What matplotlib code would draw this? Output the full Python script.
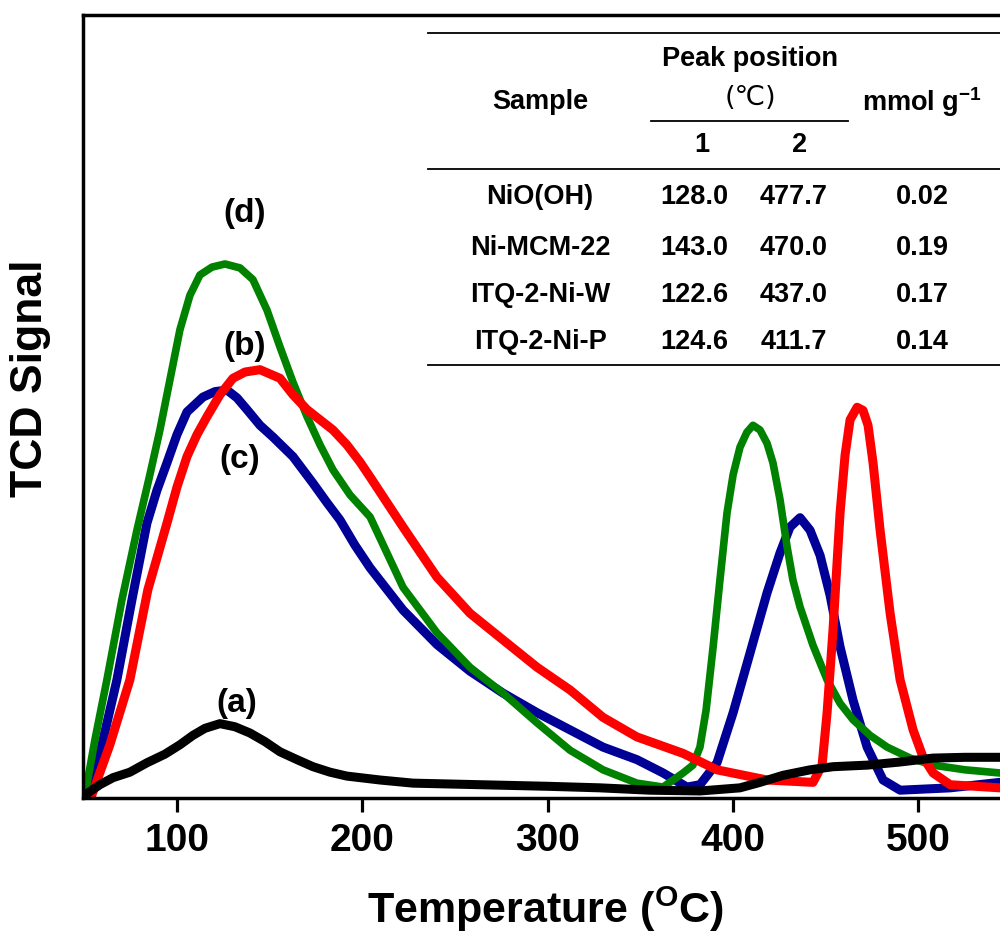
import matplotlib
matplotlib.use("Agg")
import matplotlib.pyplot as plt

# TPR profiles (temperature in degC, signal in a.u., axis top = 100)
temp_a = [50.4, 58.4, 65.5, 74.6, 83.8, 93.5, 101.6, 108.6, 115.1, 123.2, 131.3, 139.4,
          147.5, 155.6, 164.8, 173.4, 182.6, 191.7, 209.6, 227.4, 263.5, 299.7, 328.3,
          355.3, 382.2, 403.8, 414.6, 427.0, 441.6, 454.0, 472.4, 490.2, 508.0, 525.3, 544.0]
sig_a = [0.4, 1.7, 2.6, 3.3, 4.5, 5.6, 6.8, 8.0, 8.9, 9.5, 9.1, 8.3,
         7.2, 5.9, 4.9, 4.0, 3.3, 2.8, 2.3, 1.9, 1.7, 1.5, 1.3,
         1.0, 0.9, 1.3, 2.0, 2.9, 3.6, 4.0, 4.2, 4.6, 5.1, 5.2, 5.2]

temp_b = [54.1, 63.8, 74.6, 84.3, 94.6, 100.0, 105.4, 110.8, 116.2, 123.2, 130.2, 136.7,
          144.8, 155.6, 162.6, 170.2, 177.2, 184.2, 191.7, 198.8, 204.2, 222.0, 240.3,
          258.1, 275.9, 294.3, 312.1, 329.9, 348.2, 373.1, 391.4, 418.4, 443.2, 448.1,
          450.8, 454.0, 457.8, 460.5, 463.2, 467.0, 470.2, 472.9, 475.6, 479.4, 484.8,
          490.2, 497.2, 502.6, 508.0, 517.2, 544.0]
sig_b = [0.4, 6.8, 15.1, 26.6, 35.1, 39.7, 43.6, 46.4, 48.7, 51.5, 53.6, 54.4,
         54.7, 53.6, 51.5, 49.6, 48.3, 47.0, 45.1, 42.9, 41.0, 34.6, 28.2,
         23.6, 20.2, 16.7, 13.8, 10.3, 7.8, 5.7, 3.6, 2.3, 2.0, 4.2,
         10.9, 21.5, 36.4, 43.8, 48.3, 49.9, 49.5, 47.6, 42.8, 34.2, 23.6,
         15.1, 8.7, 5.2, 3.2, 1.7, 1.3]

temp_c = [53.1, 60.1, 67.6, 75.7, 83.8, 89.2, 94.6, 100.0, 105.4, 114.0, 120.5, 127.0,
          132.4, 137.8, 144.8, 151.8, 162.6, 173.4, 181.0, 188.0, 196.0, 204.2, 222.0, 240.3,
          258.1, 275.9, 294.3, 312.1, 329.9, 348.2, 362.3, 375.2, 382.2, 391.4, 400.1,
          409.2, 418.4, 425.4, 430.8, 436.2, 441.6, 447.0, 452.4, 457.8, 464.8, 472.4,
          481.0, 490.2, 517.2, 544.0]
sig_c = [0.4, 7.4, 15.1, 25.3, 35.1, 39.3, 42.8, 46.4, 49.3, 51.2, 51.9, 52.1,
         51.1, 49.6, 47.6, 46.1, 43.6, 40.2, 37.7, 35.5, 32.3, 29.4, 24.0, 19.6,
         16.2, 13.4, 10.9, 8.7, 6.5, 4.9, 3.2, 1.4, 1.7, 4.5, 10.9,
         18.5, 26.2, 31.3, 34.6, 35.8, 34.2, 31.0, 25.9, 19.3, 12.5, 6.5,
         2.3, 1.0, 1.3, 2.0]

temp_d = [50.4, 55.7, 62.2, 70.3, 78.4, 85.4, 90.8, 96.2, 101.6, 107.0, 112.4, 118.9,
          125.9, 134.0, 141.0, 148.6, 155.6, 162.6, 170.2, 177.2, 184.2, 193.4, 204.2,
          222.0, 240.3, 258.1, 275.9, 294.3, 312.1, 329.9, 348.2, 362.3, 373.1, 378.4,
          382.2, 385.5, 389.3, 393.1, 396.8, 400.1, 403.8, 407.5, 410.8, 414.6, 418.4,
          421.6, 425.4, 429.2, 432.4, 436.2, 443.2, 450.8, 457.8, 464.8, 474.0, 483.2,
          495.6, 508.0, 525.3, 544.0]
sig_d = [0.4, 7.4, 15.1, 25.3, 34.2, 41.3, 47.0, 53.4, 59.8, 64.2, 66.8, 67.8,
         68.2, 67.7, 66.2, 62.3, 57.6, 53.1, 48.7, 45.1, 41.9, 38.7, 35.9,
         26.9, 21.1, 16.7, 13.4, 9.6, 6.1, 3.6, 1.9, 1.4, 3.2, 4.2,
         6.5, 11.2, 19.3, 28.1, 36.4, 41.3, 44.8, 46.7, 47.6, 47.0, 45.3,
         42.8, 38.1, 32.1, 27.8, 24.4, 19.5, 15.1, 12.1, 10.0, 8.0, 6.5,
         5.1, 4.2, 3.6, 3.2]

curve_labels = ["(a)", "(b)", "(c)", "(d)"]
label_temp = [132.0, 136.7, 134.0, 136.7]
label_sig = [12.1, 57.6, 43.2, 74.7]

# inset table
table_samples = ["NiO(OH)", "Ni-MCM-22", "ITQ-2-Ni-W", "ITQ-2-Ni-P"]
peak1 = ["128.0", "143.0", "122.6", "124.6"]
peak2 = ["477.7", "470.0", "437.0", "411.7"]
uptake = ["0.02", "0.19", "0.17", "0.14"]

plt.rcParams["font.family"] = ["Liberation Sans", "DejaVu Sans"]
plt.rcParams["font.weight"] = "bold"

fig = plt.figure(figsize=(10, 9.35), dpi=100)
ax = fig.add_axes([0.083, 0.1465, 0.917, 0.8375])

ax.plot(temp_c, sig_c, color="#000096", lw=6.5, solid_joinstyle="round")
ax.plot(temp_d, sig_d, color="#008200", lw=5.5, solid_joinstyle="round")
ax.plot(temp_b, sig_b, color="#ff0000", lw=6.5, solid_joinstyle="round")
ax.plot(temp_a, sig_a, color="black", lw=6.5, solid_joinstyle="round")

for lab, tx, sy in zip(curve_labels, label_temp, label_sig):
    ax.text(tx, sy, lab, ha="center", va="center", fontsize=24, fontweight="bold")

ax.set_xlim(49.3, 544.1)
ax.set_ylim(0, 100)
ax.set_xticks([100, 200, 300, 400, 500])
ax.set_yticks([])
ax.spines["right"].set_visible(False)
for s in ["left", "top", "bottom"]:
    ax.spines[s].set_linewidth(2.5)
ax.tick_params(axis="x", direction="out", length=10, width=2.3, pad=8, labelsize=28)
for t in ax.get_xticklabels():
    t.set_fontweight("bold")

fig.text(0.546, 1 - 923 / 935, r"Temperature ($\mathregular{^{O}}$C)", ha="center",
         va="baseline", fontsize=31, fontweight="bold")
fig.text(0.031, 1 - 378 / 935, "TCD Signal", ha="center", va="center",
         rotation=90, fontsize=32, fontweight="bold")

# table drawn in figure pixel coordinates
def fx(px):
    return px / 1000.0

def fy(py):
    return 1 - py / 935.0

for y_rule in [33, 169, 365]:
    fig.add_artist(plt.Line2D([fx(428), fx(1000)], [fy(y_rule), fy(y_rule)],
                              color="black", lw=1.3))
fig.add_artist(plt.Line2D([fx(651), fx(848)], [fy(121), fy(121)], color="black", lw=1.3))

tsize = 19.5
fig.text(fx(540), fy(102), "Sample", ha="center", va="center", fontsize=tsize)
fig.text(fx(750), fy(59), "Peak position", ha="center", va="center", fontsize=tsize)
fig.text(fx(750), fy(98), "(℃)", ha="center", va="center", fontsize=tsize,
         fontweight="normal", family=["DejaVu Sans"])
fig.text(fx(922), fy(102), r"mmol g$\mathregular{^{−1}}$", ha="center", va="center",
         fontsize=tsize)
fig.text(fx(702), fy(145), "1", ha="center", va="center", fontsize=tsize)
fig.text(fx(800), fy(145), "2", ha="center", va="center", fontsize=tsize)

row_y = [197, 248, 295, 342]
for name, p1, p2, u, ry in zip(table_samples, peak1, peak2, uptake, row_y):
    fig.text(fx(540), fy(ry), name, ha="center", va="center", fontsize=tsize)
    fig.text(fx(694), fy(ry), p1, ha="center", va="center", fontsize=tsize)
    fig.text(fx(794), fy(ry), p2, ha="center", va="center", fontsize=tsize)
    fig.text(fx(922), fy(ry), u, ha="center", va="center", fontsize=tsize)

fig.savefig("out.png", dpi=100)
